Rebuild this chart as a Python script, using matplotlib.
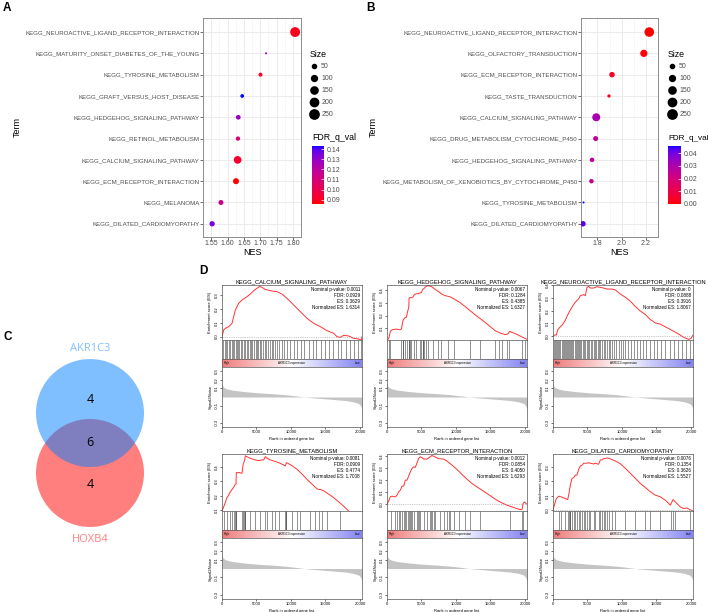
import numpy as np
import matplotlib
matplotlib.use("Agg")
import matplotlib.pyplot as plt
from matplotlib.colors import LinearSegmentedColormap, Normalize
from matplotlib.cm import ScalarMappable
from matplotlib.lines import Line2D
from matplotlib.patches import Circle

plt.rcParams['font.family'] = ['Liberation Sans', 'DejaVu Sans']

# ---------------- data: panel A ----------------
a_terms = ["KEGG_NEUROACTIVE_LIGAND_RECEPTOR_INTERACTION", "KEGG_MATURITY_ONSET_DIABETES_OF_THE_YOUNG",
           "KEGG_TYROSINE_METABOLISM", "KEGG_GRAFT_VERSUS_HOST_DISEASE", "KEGG_HEDGEHOG_SIGNALING_PATHWAY",
           "KEGG_RETINOL_METABOLISM", "KEGG_CALCIUM_SIGNALING_PATHWAY", "KEGG_ECM_RECEPTOR_INTERACTION",
           "KEGG_MELANOMA", "KEGG_DILATED_CARDIOMYOPATHY"]
a_nes = [1.807, 1.718, 1.701, 1.645, 1.633, 1.632, 1.631, 1.626, 1.580, 1.553]
a_size = [280, 12, 46, 40, 64, 53, 171, 104, 72, 81]
a_fdr = [0.0888, 0.125, 0.0909, 0.143, 0.1284, 0.108, 0.0929, 0.0854, 0.114, 0.1354]
a_xticks = [1.55, 1.60, 1.65, 1.70, 1.75, 1.80]

# ---------------- data: panel B ----------------
b_terms = ["KEGG_NEUROACTIVE_LIGAND_RECEPTOR_INTERACTION", "KEGG_OLFACTORY_TRANSDUCTION",
           "KEGG_ECM_RECEPTOR_INTERACTION", "KEGG_TASTE_TRANSDUCTION", "KEGG_CALCIUM_SIGNALING_PATHWAY",
           "KEGG_DRUG_METABOLISM_CYTOCHROME_P450", "KEGG_HEDGEHOG_SIGNALING_PATHWAY",
           "KEGG_METABOLISM_OF_XENOBIOTICS_BY_CYTOCHROME_P450", "KEGG_TYROSINE_METABOLISM",
           "KEGG_DILATED_CARDIOMYOPATHY"]
b_nes = [2.228, 2.183, 1.920, 1.895, 1.790, 1.785, 1.755, 1.750, 1.685, 1.680]
b_size = [265, 150, 87, 31, 184, 72, 58, 58, 12, 87]
b_fdr = [0.0, 0.0005, 0.003, 0.004, 0.031, 0.025, 0.026, 0.024, 0.0455, 0.042]
b_xticks = [1.8, 2.0, 2.2]

size_legend = [50, 100, 150, 200, 250]

# ---------------- data: panel C ----------------
venn_sets = ["AKR1C3", "HOXB4"]
venn_counts = [4, 6, 4]   # AKR1C3 only, both, HOXB4 only

# ---------------- data: panel D ----------------
metric_rank = [0, 100, 300, 700, 1500, 3000, 5000, 7000, 9000, 10500, 11500, 12000, 12500,
               14000, 16000, 18000, 19000, 19800, 20100, 20250, 20300]
metric_val = [0.16, 0.13, 0.11, 0.095, 0.08, 0.065, 0.05, 0.04, 0.028, 0.015, 0.004, 0.0, -0.005,
              -0.015, -0.028, -0.042, -0.055, -0.075, -0.10, -0.13, -0.16]

calcium_rank = [0, 242, 483, 967, 1450, 1692, 1933, 2417, 2900, 3625, 4108, 4592, 5075, 5462, 5800, 6283,
                7008, 7975, 8700, 9425, 10392, 11358, 12325, 13292, 14258, 15225, 16192, 16675, 17158,
                17642, 18367, 19092, 19817, 20203, 20300]
calcium_es = [0, 0.048, 0.06, 0.072, 0.096, 0.144, 0.192, 0.24, 0.264, 0.288, 0.307, 0.331, 0.348, 0.362,
              0.355, 0.34, 0.331, 0.324, 0.307, 0.276, 0.228, 0.18, 0.132, 0.096, 0.072, 0.043, 0.024, 0.0,
              -0.005, 0.01, 0.005, -0.012, -0.017, -0.024, 0.0]
calcium_hits = [120, 380, 520, 760, 990, 1130, 1380, 1540, 1720, 1960, 2150, 2290, 2510, 2780, 2930, 3120,
                3390, 3570, 3810, 4050, 4240, 4380, 4620, 4880, 5060, 5290, 5510, 5700, 5960, 6230, 6410,
                6690, 6950, 7180, 7460, 7730, 8020, 8300, 8650, 9010, 9480, 9900, 10450, 10900, 11500,
                11950, 12600, 13150, 13700, 14400, 14950, 15500, 16150, 16800, 17300, 17950, 18500,
                19150, 19700, 20150]

hedgehog_rank = [0, 291, 486, 777, 1360, 1845, 2088, 2234, 2331, 2574, 2816, 2962, 3157, 3205, 3545, 3788,
                 3933, 4273, 4516, 4759, 5002, 5148, 5390, 5633, 5973, 6459, 6944, 7430, 7915, 8401, 9129,
                 9858, 10586, 11314, 12043, 12771, 13500, 14228, 14956, 15685, 16413, 17142, 17530, 17773,
                 18113, 18599, 19327, 19813, 20300]
hedgehog_es = [0.0, 0.023, 0.074, 0.087, 0.092, 0.087, 0.092, 0.137, 0.163, 0.181, 0.186, 0.226, 0.265,
               0.341, 0.341, 0.349, 0.366, 0.374, 0.374, 0.379, 0.384, 0.405, 0.417, 0.430, 0.4385, 0.430,
               0.410, 0.392, 0.372, 0.359, 0.349, 0.328, 0.303, 0.272, 0.239, 0.206, 0.176, 0.145, 0.112,
               0.079, 0.061, 0.048, 0.053, 0.074, 0.066, 0.056, 0.036, 0.023, 0.010]
hedgehog_hits = [300, 500, 2100, 2250, 2350, 2600, 2950, 3150, 3200, 3300, 3550, 3950, 4250, 4750, 5000,
                 5150, 5250, 5400, 5650, 6000, 6700, 7450, 7900, 8900, 9650, 12000, 13500, 15700, 16200,
                 16700, 17400, 17750, 19550, 20000]

neuro_rank = [0, 193, 483, 677, 967, 1305, 1547, 1788, 2030, 2417, 2755, 3238, 3722, 3963, 4447, 4688, 4930,
              5172, 5413, 5897, 6380, 6863, 7347, 7830, 8555, 9038, 9763, 10488, 11213, 11938, 12663, 13388,
              14113, 14838, 15563, 16288, 17013, 17738, 18463, 18947, 19672, 20010, 20300]
neuro_es = [0, 0.008, 0.008, 0.047, 0.068, 0.086, 0.104, 0.125, 0.156, 0.197, 0.229, 0.268, 0.294, 0.319,
            0.327, 0.319, 0.384, 0.3916, 0.379, 0.379, 0.390, 0.384, 0.379, 0.371, 0.371, 0.364, 0.332, 0.306,
            0.275, 0.234, 0.197, 0.171, 0.130, 0.104, 0.094, 0.073, 0.052, 0.031, 0.008, -0.010, -0.026,
            -0.018, 0.008]
neuro_hits = [90, 250, 430, 600, 710, 880, 1020, 1250, 1400, 1560, 1690, 1850, 2010, 2200, 2330, 2480, 2640,
              2810, 2950, 3120, 3300, 3420, 3610, 3790, 3950, 4120, 4300, 4460, 4700, 4930, 5080, 5260, 5450,
              5690, 5880, 6020, 6250, 6470, 6700, 6880, 7100, 7350, 7580, 7800, 8050, 8330, 8600, 8900, 9200,
              9550, 9800, 10150, 10500, 10900, 11300, 11700, 12150, 12600, 13050, 13500, 14000, 14600, 15100,
              15700, 16300, 16900, 17500, 18100, 18700, 19300, 19900]

tyrosine_rank = [0, 338, 725, 967, 1208, 1450, 1692, 1837, 2030, 2078, 2562, 2900, 3045, 3286, 3383, 3867,
                 4350, 4833, 5317, 5800, 6042, 6283, 6525, 7008, 7492, 8217, 8942, 9183, 9328, 9522, 10150,
                 10875, 11600, 12325, 13050, 13775, 14017, 14258, 14742, 15467, 16192, 16917, 17642, 18367,
                 20300]
tyrosine_es = [0.095, 0.135, 0.188, 0.205, 0.228, 0.244, 0.258, 0.274, 0.281, 0.361, 0.361, 0.356, 0.414,
               0.449, 0.4774, 0.465, 0.456, 0.449, 0.444, 0.449, 0.449, 0.472, 0.461, 0.449, 0.442, 0.430,
               0.414, 0.407, 0.430, 0.426, 0.409, 0.384, 0.351, 0.314, 0.281, 0.249, 0.244, 0.244, 0.235,
               0.212, 0.188, 0.158, 0.128, 0.095, 0.0]
tyrosine_hits = [340, 730, 1210, 1450, 1690, 1840, 2030, 2080, 2900, 3050, 3140, 3290, 3380, 4110, 4830, 5560,
                 6280, 6530, 7250, 7730, 8220, 9180, 9230, 9330, 10150, 10880, 11360, 12810, 13530, 14020,
                 14500, 15220, 17160]

ecm_rank = [0, 242, 483, 725, 1208, 1450, 1692, 1933, 2175, 2417, 2658, 2900, 3142, 3287, 3625, 3867, 4108,
            4350, 4592, 4833, 5075, 5317, 5800, 6283, 6525, 7008, 7492, 8217, 8700, 9425, 10150, 10875, 11600,
            12325, 13050, 13775, 14500, 15225, 15950, 16675, 17400, 18125, 18850, 19333, 19575, 19720, 19913,
            20300]
ecm_es = [0, 0.028, 0.061, 0.067, 0.061, 0.075, 0.103, 0.117, 0.150, 0.150, 0.200, 0.200, 0.233, 0.256,
          0.297, 0.311, 0.306, 0.344, 0.381, 0.394, 0.386, 0.375, 0.375, 0.394, 0.405, 0.392, 0.378, 0.375,
          0.358, 0.325, 0.289, 0.247, 0.208, 0.172, 0.144, 0.117, 0.089, 0.061, 0.033, 0.011, -0.008, -0.022,
          -0.036, -0.044, -0.044, 0.006, 0.019, 0.0]
ecm_hits = [580, 1210, 1450, 1690, 1930, 2180, 2420, 2560, 2760, 3000, 3140, 3290, 3530, 3630, 3870, 4350,
            4500, 4590, 4830, 5320, 5800, 6280, 6430, 6530, 6770, 7010, 7730, 8310, 8700, 9040, 9180, 9670,
            10390, 11360, 12080, 13530, 17880, 19570, 19720]

dilated_rank = [0, 193, 483, 822, 1160, 1788, 2127, 2272, 2513, 2755, 2997, 3238, 3480, 3722, 3963, 4205,
                4447, 4930, 5172, 5413, 5897, 6138, 6622, 6863, 7105, 7347, 7588, 7830, 8072, 8555, 9038,
                9763, 10488, 11213, 11938, 12663, 13388, 14113, 14838, 15563, 16288, 16772, 17013, 17400,
                17738, 18463, 18947, 19430, 19817, 20300]
dilated_es = [0, 0.035, 0.081, 0.098, 0.093, 0.081, 0.074, 0.105, 0.174, 0.221, 0.226, 0.244, 0.244, 0.284,
              0.307, 0.312, 0.326, 0.326, 0.330, 0.326, 0.321, 0.326, 0.319, 0.349, 0.349, 0.358, 0.358,
              0.3626, 0.360, 0.352, 0.342, 0.322, 0.291, 0.256, 0.221, 0.186, 0.158, 0.128, 0.105, 0.093,
              0.070, 0.047, 0.035, 0.074, 0.058, 0.023, 0.012, 0.016, 0.005, -0.005]
dilated_hits = [820, 1160, 1790, 2130, 2270, 2420, 2510, 2760, 3000, 3240, 3480, 3720, 3960, 4210, 4450, 4690,
                4930, 5170, 5410, 5900, 6140, 6620, 6860, 7100, 7350, 7590, 7830, 8070, 8560, 9040, 10490,
                11940, 13390, 14110, 15560, 17100, 17400, 17740, 19800]

gsea_titles = ["KEGG_CALCIUM_SIGNALING_PATHWAY", "KEGG_HEDGEHOG_SIGNALING_PATHWAY",
               "KEGG_NEUROACTIVE_LIGAND_RECEPTOR_INTERACTION", "KEGG_TYROSINE_METABOLISM",
               "KEGG_ECM_RECEPTOR_INTERACTION", "KEGG_DILATED_CARDIOMYOPATHY"]
gsea_pval = ["0.0011", "0.0067", "0", "0.0081", "0.0012", "0.0076"]
gsea_fdr = ["0.0929", "0.1284", "0.0888", "0.0909", "0.0854", "0.1354"]
gsea_es = ["0.3629", "0.4385", "0.3916", "0.4774", "0.4050", "0.3626"]
gsea_nes = ["1.6314", "1.6327", "1.8067", "1.7008", "1.6293", "1.5527"]
es_ylims = [(-0.024, 0.372), (0.005, 0.443), (-0.031, 0.403), (0.095, 0.49), (-0.056, 0.417), (-0.005, 0.39)]
es_yticks = [[0, 0.1, 0.2, 0.3], [0.1, 0.2, 0.3, 0.4], [0, 0.1, 0.2, 0.3, 0.4], [0.1, 0.2, 0.3, 0.4],
             [0, 0.1, 0.2, 0.3, 0.4], [0, 0.1, 0.2, 0.3]]
rank_xticks = [0, 5000, 10000, 15000, 20000]
n_genes = 20300

# ---------------- helpers ----------------
W, H = 708, 612
fig = plt.figure(figsize=(W / 100, H / 100), dpi=100)


def rect(l, t, r, b):
    return [l / W, 1 - b / H, (r - l) / W, (b - t) / H]


M = np.array([[0.4124, 0.3576, 0.1805], [0.2126, 0.7152, 0.0722], [0.0193, 0.1192, 0.9505]])
WP = np.array([0.95047, 1.0, 1.08883])


def to_lab(rgb):
    rgb = np.asarray(rgb, float)
    lin = np.where(rgb <= 0.04045, rgb / 12.92, ((rgb + 0.055) / 1.055) ** 2.4)
    t = (M @ lin) / WP
    f = np.where(t > (6 / 29) ** 3, np.cbrt(t), t / (3 * (6 / 29) ** 2) + 4 / 29)
    return np.array([116 * f[1] - 16, 500 * (f[0] - f[1]), 200 * (f[1] - f[2])])


def from_lab(lab):
    L, a, b = lab
    fy = (L + 16) / 116
    f = np.array([fy + a / 500, fy, fy - b / 200])
    t = np.where(f > 6 / 29, f ** 3, 3 * (6 / 29) ** 2 * (f - 4 / 29))
    lin = np.clip(np.linalg.inv(M) @ (t * WP), 0, 1)
    return np.clip(np.where(lin <= 0.0031308, 12.92 * lin, 1.055 * lin ** (1 / 2.4) - 0.055), 0, 1)


lab_r, lab_b = to_lab([1, 0, 0]), to_lab([0, 0, 1])
cmap = LinearSegmentedColormap.from_list(
    "rb", [from_lab(lab_r + (lab_b - lab_r) * t) for t in np.linspace(0, 1, 64)])

SK = 0.18  # scatter area per size unit
GRAY = "#4D4D4D"


def dot_panel(rc, terms, nes, size, fdr, flim, xlim, xticks, leg_x, cb_rect, cb_ticks, term_x, fdr_fs):
    ax = fig.add_axes(rect(*rc))
    n = len(terms)
    y = np.arange(n)[::-1]
    ax.scatter(nes, y, s=np.array(size) * SK, c=fdr, cmap=cmap, vmin=flim[0], vmax=flim[1],
               linewidths=0, zorder=3)
    ax.set_yticks(y)
    ax.set_yticklabels(terms, fontsize=4.45, color=GRAY)
    ax.set_ylim(-0.62, n - 1 + 0.66)
    ax.set_xlim(*xlim)
    ax.set_xticks(xticks)
    ax.set_xticklabels([f"{v:.2f}" if len(xticks) > 3 else f"{v:.1f}" for v in xticks], fontsize=5, color=GRAY)
    minor = [(a + b) / 2 for a, b in zip(xticks[:-1], xticks[1:])]
    minor = [xticks[0] - (xticks[1] - xticks[0]) / 2] + minor + [xticks[-1] + (xticks[1] - xticks[0]) / 2]
    ax.set_xticks(minor, minor=True)
    ax.tick_params(which="minor", length=0)
    ax.grid(True, which="major", color="#EBEBEB", lw=0.7, zorder=0)
    ax.grid(True, which="minor", axis="x", color="#F2F2F2", lw=0.4, zorder=0)
    ax.set_axisbelow(True)
    ax.tick_params(which="major", length=2, width=0.5, color="#333333", pad=0.5)
    for s in ax.spines.values():
        s.set_color("#8C8C8C")
        s.set_linewidth(0.7)
    ax.set_xlabel("NES", fontsize=6.5, labelpad=0.5)
    ax.set_ylabel("Term", fontsize=6.5)
    ax.yaxis.set_label_coords((term_x - rc[0]) / (rc[2] - rc[0]), 0.5)
    handles = [Line2D([], [], ls="", marker="o", color="black", markersize=np.sqrt(v * SK)) for v in size_legend]
    leg = ax.legend(handles, [str(v) for v in size_legend], title="Size", loc="upper left",
                    bbox_to_anchor=(leg_x / W, 1 - 50 / H), bbox_transform=fig.transFigure, frameon=False,
                    fontsize=5, title_fontsize=6.3, handletextpad=0.4, labelspacing=0.72, handlelength=1.2,
                    borderaxespad=0, borderpad=0)
    leg._legend_box.align = "left"
    leg._legend_box.sep = 3
    for t in leg.get_texts():
        t.set_color(GRAY)
    cax = fig.add_axes(rect(*cb_rect))
    cb = fig.colorbar(ScalarMappable(norm=Normalize(*flim), cmap=cmap), cax=cax)
    cb.outline.set_visible(False)
    cb.set_ticks(cb_ticks)
    cb.ax.tick_params(labelsize=5, length=2.5, width=0.5, color="white", direction="in", pad=2,
                      labelcolor=GRAY)
    fig.text(cb_rect[0] / W, 1 - 138 / H, "FDR_q_val", fontsize=fdr_fs, ha="left", va="center")
    return ax


dot_panel((203, 18, 301, 237), a_terms, a_nes, a_size, a_fdr, (0.0858, 0.143), (1.539, 1.817),
          a_xticks, 310, (312, 146, 324, 204), [0.09, 0.10, 0.11, 0.12, 0.13, 0.14], 22, 6.3)
dot_panel((581, 18, 658, 237), b_terms, b_nes, b_size, b_fdr, (0.0, 0.0455), (1.664, 2.245),
          b_xticks, 668, (668, 146, 681, 204), [0.00, 0.01, 0.02, 0.03, 0.04], 378, 5.9)

# ---------------- panel C: Venn ----------------
axc = fig.add_axes(rect(30, 340, 150, 545))
axc.set_xlim(-60 / 54, 60 / 54)
axc.set_ylim(-102 / 54, 103 / 54)
axc.axis("off")
d = 0.555
axc.add_patch(Circle((0, -d), 1, facecolor="#FF0000", alpha=0.5, lw=0))
axc.add_patch(Circle((0, d), 1, facecolor="#0080FF", alpha=0.5, lw=0))
vfont = ["Open Sans", "DejaVu Sans"]
axc.text(0, d + 0.25, str(venn_counts[0]), ha="center", va="center", fontsize=9, family=vfont)
axc.text(0, 0, str(venn_counts[1]), ha="center", va="center", fontsize=9, family=vfont)
axc.text(0, -d - 0.21, str(venn_counts[2]), ha="center", va="center", fontsize=9, family=vfont)
axc.text(0, d + 1.19, venn_sets[0], ha="center", va="center", fontsize=8, color="#80C0FF", family=vfont)
axc.text(0, -d - 1.23, venn_sets[1], ha="center", va="center", fontsize=8, color="#FF8080", family=vfont)

# ---------------- panel D: GSEA ----------------
strip = np.linspace(0, 1, 256).reshape(1, -1)
strip_cmap = LinearSegmentedColormap.from_list("hl", ["#F07C7C", "#FFFFFF", "#8484F2"])
gsea_data = [(calcium_rank, calcium_es, calcium_hits), (hedgehog_rank, hedgehog_es, hedgehog_hits),
             (neuro_rank, neuro_es, neuro_hits), (tyrosine_rank, tyrosine_es, tyrosine_hits),
             (ecm_rank, ecm_es, ecm_hits), (dilated_rank, dilated_es, dilated_hits)]
cols = [(222, 362), (387, 527), (553, 693)]
rows = [(285, 340, 359, 367, 427), (454, 511, 530, 538, 599)]
TF = 3.0


def style(ax):
    for s in ax.spines.values():
        s.set_linewidth(0.5)
        s.set_color("#555555")


for i, (rk, es, hits) in enumerate(gsea_data):
    l, r = cols[i % 3]
    t0, t1, t2, t3, t4 = rows[i // 3]
    ax1 = fig.add_axes(rect(l, t0, r, t1))
    ax1.plot(rk, es, color="#FF3333", lw=0.7)
    ax1.axhline(0, color="#999999", lw=0.4, ls=(0, (2, 2)))
    ax1.set_xlim(0, n_genes)
    ax1.set_ylim(*es_ylims[i])
    ax1.set_yticks(es_yticks[i])
    ax1.set_yticklabels([f"{v:.1f}" for v in es_yticks[i]], fontsize=TF, rotation=90, va="center")
    ax1.set_xticks([])
    ax1.tick_params(length=1.5, width=0.4, pad=1)
    ax1.set_ylabel("Enrichment score (ES)", fontsize=TF, labelpad=1.5)
    ax1.set_title(gsea_titles[i], fontsize=4.2, pad=1.5)
    ax1.text(0.985, 0.97, f"Nominal p-value: {gsea_pval[i]}\nFDR: {gsea_fdr[i]}\nES: {gsea_es[i]}\n"
             f"Normalized ES: {gsea_nes[i]}", transform=ax1.transAxes, ha="right", va="top",
             fontsize=3.3, linespacing=1.25)
    style(ax1)

    ax2 = fig.add_axes(rect(l, t1, r, t2))
    ax2.vlines(hits, 0, 1, color="#333333", lw=0.5, alpha=0.75)
    ax2.set_xlim(0, n_genes)
    ax2.set_ylim(0, 1)
    ax2.set_xticks([])
    ax2.set_yticks([])
    style(ax2)

    ax3 = fig.add_axes(rect(l, t2, r, t3))
    ax3.imshow(strip, aspect="auto", cmap=strip_cmap, extent=(0, n_genes, 0, 1))
    ax3.set_xlim(0, n_genes)
    ax3.set_xticks([])
    ax3.set_yticks([])
    ax3.text(0.01, 0.5, "High", transform=ax3.transAxes, fontsize=2.2, va="center", ha="left")
    ax3.text(0.5, 0.5, "AKR1C3 expression", transform=ax3.transAxes, fontsize=2.2, va="center", ha="center")
    ax3.text(0.99, 0.5, "Low", transform=ax3.transAxes, fontsize=2.2, va="center", ha="right")
    style(ax3)

    ax4 = fig.add_axes(rect(l, t3, r, t4))
    ax4.fill_between(metric_rank, 0, metric_val, color="#C4C4C4", lw=0)
    ax4.set_xlim(0, n_genes)
    ax4.set_ylim(-0.35, 0.35)
    ax4.set_yticks([-0.3, -0.1, 0.1, 0.2, 0.3])
    ax4.set_yticklabels(["-0.3", "-0.1", "0.1", "0.2", "0.3"], fontsize=TF, rotation=90, va="center")
    ax4.set_xticks(rank_xticks)
    ax4.set_xticklabels([str(v) for v in rank_xticks], fontsize=TF)
    ax4.tick_params(length=1.5, width=0.4, pad=1)
    ax4.set_ylabel("Signal2Noise", fontsize=TF, labelpad=1.5)
    ax4.set_xlabel("Rank in ordered gene list", fontsize=TF, labelpad=1.5)
    style(ax4)

# ---------------- panel letters ----------------
for lab, x, y in [("A", 3, 8), ("B", 366, 8), ("C", 4, 337), ("D", 199, 271)]:
    fig.text(x / W, 1 - y / H, lab, fontsize=8.5, fontweight="bold", ha="left", va="center")

fig.savefig("out.png", dpi=100)
